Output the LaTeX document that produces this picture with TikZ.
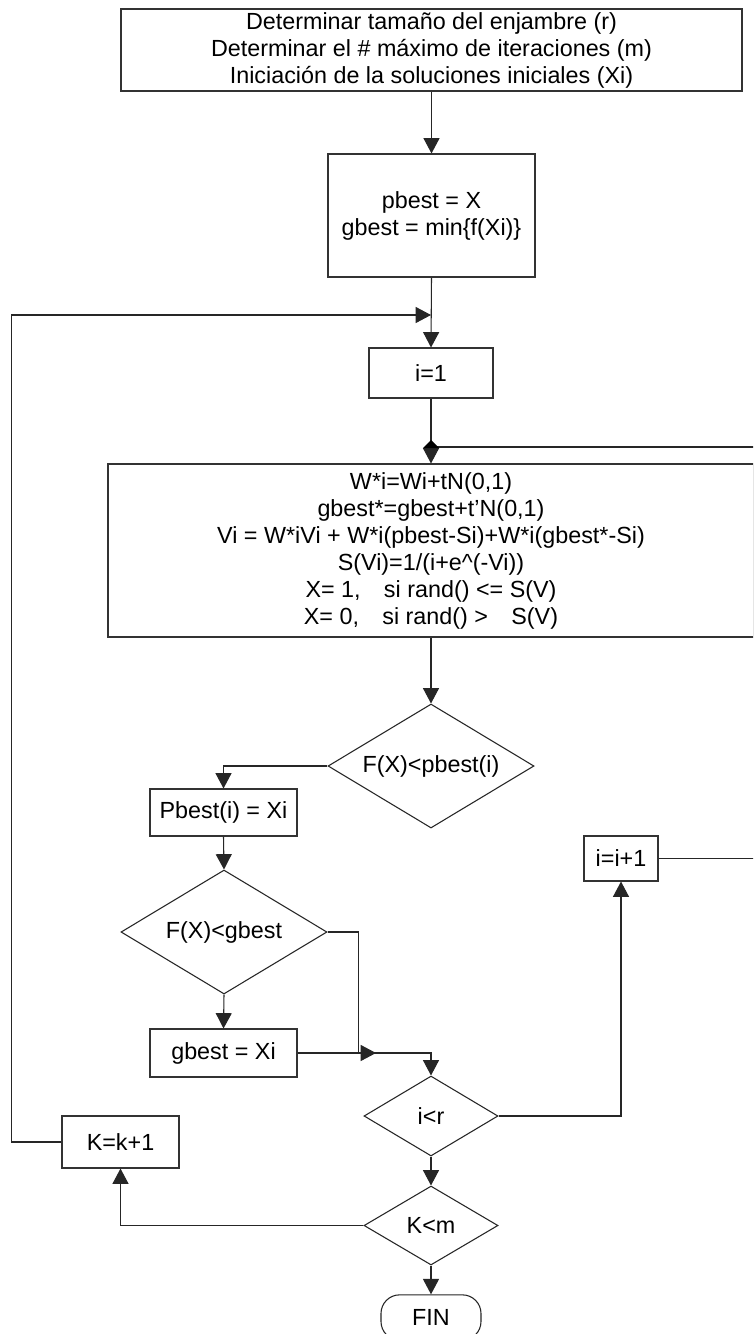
\documentclass[tikz,border=0pt]{standalone}
\usepackage{fontspec}
\setmainfont{Liberation Sans}
\usetikzlibrary{shapes.geometric,arrows.meta}
\tikzset{
  txt/.style={font=\fontsize{17.5}{20.25}\selectfont, align=center},
  box/.style={txt, draw=black!80, line width=0.8pt, rectangle, inner sep=0pt},
  dia/.style={txt, draw=black!85, line width=0.8pt, diamond, inner sep=0.5pt},
  term/.style={txt, draw=black!85, line width=0.8pt, rectangle, rounded corners=14pt, inner sep=0pt},
  conn/.style={draw=black!85, line width=0.8pt},
  arr/.style={conn, -{Triangle[length=11.5pt,width=12pt]}},
}
\begin{document}
\begin{tikzpicture}[x=0.75pt,y=-0.75pt]
\useasboundingbox (0,0) rectangle (753,1334);
\clip (0,0) rectangle (753,1334);
\fill[white] (0,0) rectangle (753,1334);

% nodes
\node[box, minimum width=465.75pt, minimum height=61.5pt] (top) at (431.5,50)
  {Determinar tamaño del enjambre (r)\\Determinar el \# máximo de iteraciones (m)\\Iniciación de la soluciones iniciales (Xi)};
\node[box, minimum width=155.25pt, minimum height=92.25pt] (pb) at (431.5,215.5)
  {pbest = X\\gbest = min\{f(Xi)\}};
\node[box, minimum width=93pt, minimum height=37.5pt] (i1) at (431,373) {i=1};
\node[box, minimum width=484.5pt, minimum height=129.75pt] (big) at (431,550.5)
  {W*i=Wi+tN(0,1)\\gbest*=gbest+t’N(0,1)\\Vi = W*iVi + W*i(pbest-Si)+W*i(gbest*-Si)\\S(Vi)=1/(i+e\^{}(-Vi))\\X= 1,\quad si rand() <= S(V)\\X= 0,\quad si rand() >\quad S(V)};
\node[dia, shape aspect=1.66, minimum width=154.5pt, minimum height=93pt] (d1) at (431,766) {F(X)<pbest(i)};
\node[box, minimum width=110.25pt, minimum height=35.25pt] (pb2) at (223.5,812.5) {Pbest(i) = Xi};
\node[dia, shape aspect=1.66, minimum width=154.5pt, minimum height=93pt] (d2) at (224,932) {F(X)<gbest};
\node[box, minimum width=110.25pt, minimum height=36pt] (gb) at (223.5,1053) {gbest = Xi};
\node[dia, shape aspect=1.67, minimum width=100.5pt, minimum height=60pt] (ir) at (431,1116) {i<r};
\node[box, minimum width=55.5pt, minimum height=33.75pt] (inc) at (621,858.5) {i=i+1};
\node[dia, shape aspect=1.67, minimum width=100.5pt, minimum height=59.25pt] (km) at (431,1225.5) {K<m};
\node[box, minimum width=87.75pt, minimum height=39pt] (kk) at (120.5,1142) {K=k+1};
\node[term, minimum width=75pt, minimum height=34pt] (fin) at (431,1317.5) {FIN};

% junction coordinates
\coordinate (j1) at (431,315);
\coordinate (j2) at (431,447);
\coordinate (j3) at (376,1053);

% connectors
\draw[arr] (top.south) -- (pb.north);
\draw[arr] (pb.south) -- (i1.north);
\draw[arr] (kk.west) -- ++(-50,0) |- (j1);
\draw[arr] (i1.south) -- (big.north);
\draw[conn] (inc.east) -- ++(120,0) |- (j2);
\fill[black] (431,440) -- (439,448) -- (423,448) -- cycle;
\draw[arr] (big.south) -- (d1.north);
\draw[arr] (d1.west) -| (pb2.north);
\draw[arr] (pb2.south) -- (d2.north);
\draw[arr] (d2.south) -- (gb.north);
\draw[arr] (d2.east) -- ++(31,0) |- (j3);
\draw[arr] (gb.east) -| (ir.north);
\draw[arr] (ir.east) -| (inc.south);
\draw[arr] (ir.south) -- (km.north);
\draw[arr] (km.west) -| (kk.south);
\draw[arr] (km.south) -- (fin.north);
\end{tikzpicture}
\end{document}
